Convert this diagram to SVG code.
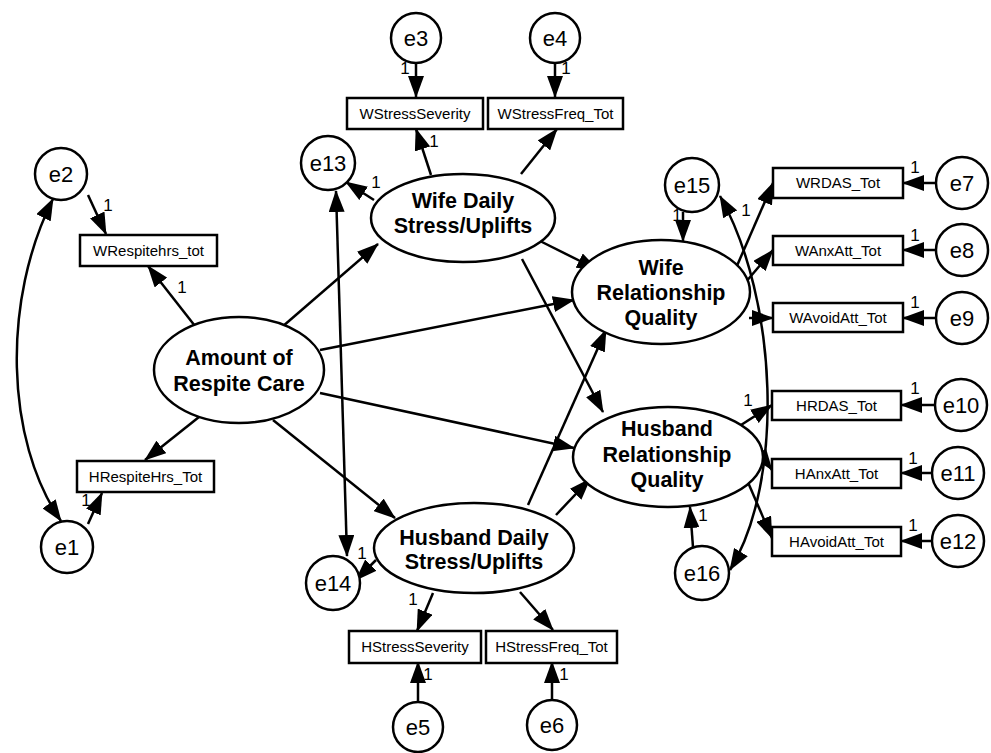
<svg xmlns="http://www.w3.org/2000/svg" width="991" height="753" viewBox="0 0 991 753">
<style>
.n{fill:#fff;stroke:#000;stroke-width:2.5}
.c{fill:none;stroke:#000;stroke-width:2.5}
.lt{font-family:"Liberation Sans",Arial,sans-serif;font-weight:bold;font-size:21.5px;text-anchor:middle}
.et{font-family:"Liberation Sans",Arial,sans-serif;font-size:22px;text-anchor:middle}
.bt{font-family:"Liberation Sans",Arial,sans-serif;font-size:15px;text-anchor:middle}
.one{font-family:"Liberation Sans",Arial,sans-serif;font-size:17px;text-anchor:middle;fill:#000}
</style>
<defs>
<marker id="a" markerWidth="22" markerHeight="16" refX="21" refY="8" orient="auto-start-reverse" markerUnits="userSpaceOnUse"><path d="M0,0 L22,8 L0,16 z" fill="#000"/></marker>
</defs>
<rect width="991" height="753" fill="#fff"/>
<g id="connectors">
<path class="c" d="M88,195 L106,234" marker-end="url(#a)"/>
<path class="c" d="M195,326 L148,266" marker-end="url(#a)"/>
<path class="c" d="M199,417 L145,460" marker-end="url(#a)"/>
<path class="c" d="M88,524 L102,493" marker-end="url(#a)"/>
<path class="c" d="M53,199 C2,300 5,440 61,521" marker-start="url(#a)" marker-end="url(#a)"/>
<path class="c" d="M416,63 L416,97" marker-end="url(#a)"/>
<path class="c" d="M555,63 L555,97" marker-end="url(#a)"/>
<path class="c" d="M431,175 L416,129" marker-end="url(#a)"/>
<path class="c" d="M521,174 L557,129" marker-end="url(#a)"/>
<path class="c" d="M374,200 L346,182" marker-end="url(#a)"/>
<path class="c" d="M336,191 L347,556" marker-start="url(#a)" marker-end="url(#a)"/>
<path class="c" d="M376,560 L356,580" marker-end="url(#a)"/>
<path class="c" d="M720,196 C778,300 785,480 730,570" marker-start="url(#a)" marker-end="url(#a)"/>
<path class="c" d="M282,327 L378,244" marker-end="url(#a)"/>
<path class="c" d="M320,350 L574,300" marker-end="url(#a)"/>
<path class="c" d="M320,393 L574,448" marker-end="url(#a)"/>
<path class="c" d="M273,420 L395,518" marker-end="url(#a)"/>
<path class="c" d="M538,240 L598,270" marker-end="url(#a)"/>
<path class="c" d="M522,259 L603,412" marker-end="url(#a)"/>
<path class="c" d="M528,505 L606,330" marker-end="url(#a)"/>
<path class="c" d="M556,515 L590,479" marker-end="url(#a)"/>
<path class="c" d="M736,268 L773,183" marker-end="url(#a)"/>
<path class="c" d="M745,283 L773,250" marker-end="url(#a)"/>
<path class="c" d="M749,318 L773,318" marker-end="url(#a)"/>
<path class="c" d="M935,183 L903,183" marker-end="url(#a)"/>
<path class="c" d="M935,250 L903,250" marker-end="url(#a)"/>
<path class="c" d="M935,318 L903,318" marker-end="url(#a)"/>
<path class="c" d="M935,405 L901,405" marker-end="url(#a)"/>
<path class="c" d="M931,473 L901,473" marker-end="url(#a)"/>
<path class="c" d="M931,541 L901,541" marker-end="url(#a)"/>
<path class="c" d="M741,425 L772,405" marker-end="url(#a)"/>
<path class="c" d="M758,451 L772,470" marker-end="url(#a)"/>
<path class="c" d="M747,480 L772,538" marker-end="url(#a)"/>
<path class="c" d="M693,547 L690,507" marker-end="url(#a)"/>
<path class="c" d="M683,212 L683,241" marker-end="url(#a)"/>
<path class="c" d="M433,593 L417,631" marker-end="url(#a)"/>
<path class="c" d="M520,592 L553,630" marker-end="url(#a)"/>
<path class="c" d="M418,701 L418,662" marker-end="url(#a)"/>
<path class="c" d="M552,699 L552,662" marker-end="url(#a)"/>
<text class="one" x="108" y="211">1</text>
<text class="one" x="182" y="293">1</text>
<text class="one" x="86" y="506">1</text>
<text class="one" x="405" y="74">1</text>
<text class="one" x="566" y="74">1</text>
<text class="one" x="434" y="147">1</text>
<text class="one" x="376" y="188">1</text>
<text class="one" x="746" y="216">1</text>
<text class="one" x="915" y="173">1</text>
<text class="one" x="915" y="241">1</text>
<text class="one" x="915" y="308">1</text>
<text class="one" x="915" y="394">1</text>
<text class="one" x="913" y="464">1</text>
<text class="one" x="913" y="531">1</text>
<text class="one" x="748" y="406">1</text>
<text class="one" x="703" y="521">1</text>
<text class="one" x="677" y="221">1</text>
<text class="one" x="362" y="559">1</text>
<text class="one" x="413" y="605">1</text>
<text class="one" x="428" y="680">1</text>
<text class="one" x="564" y="680">1</text>
</g>
<g id="e1"><circle class="n" cx="67" cy="547" r="26"/><text class="et" x="67" y="555">e1</text></g>
<g id="e2"><circle class="n" cx="61" cy="174" r="26"/><text class="et" x="61" y="182">e2</text></g>
<g id="e3"><circle class="n" cx="416" cy="38" r="25"/><text class="et" x="416" y="46">e3</text></g>
<g id="e4"><circle class="n" cx="555" cy="38" r="25"/><text class="et" x="555" y="46">e4</text></g>
<g id="e5"><circle class="n" cx="418" cy="727" r="25"/><text class="et" x="418" y="735">e5</text></g>
<g id="e6"><circle class="n" cx="552" cy="725" r="25"/><text class="et" x="552" y="733">e6</text></g>
<g id="e7"><circle class="n" cx="962" cy="183" r="26"/><text class="et" x="962" y="191">e7</text></g>
<g id="e8"><circle class="n" cx="962" cy="250" r="26"/><text class="et" x="962" y="258">e8</text></g>
<g id="e9"><circle class="n" cx="962" cy="318" r="26"/><text class="et" x="962" y="326">e9</text></g>
<g id="e10"><circle class="n" cx="961" cy="405" r="26"/><text class="et" x="961" y="413">e10</text></g>
<g id="e11"><circle class="n" cx="958" cy="473" r="26"/><text class="et" x="958" y="481">e11</text></g>
<g id="e12"><circle class="n" cx="958" cy="541" r="26"/><text class="et" x="958" y="549">e12</text></g>
<g id="e13"><circle class="n" cx="328" cy="163" r="27"/><text class="et" x="328" y="171">e13</text></g>
<g id="e14"><circle class="n" cx="333" cy="583" r="27"/><text class="et" x="333" y="591">e14</text></g>
<g id="e15"><circle class="n" cx="692" cy="185" r="27"/><text class="et" x="692" y="193">e15</text></g>
<g id="e16"><circle class="n" cx="702" cy="573" r="27"/><text class="et" x="702" y="581">e16</text></g>
<g id="WRespitehrs_tot"><rect class="n" x="80" y="235" width="137" height="31"/><text class="bt" x="148.5" y="256">WRespitehrs_tot</text></g>
<g id="HRespiteHrs_Tot"><rect class="n" x="77" y="461" width="137" height="31"/><text class="bt" x="145.5" y="482">HRespiteHrs_Tot</text></g>
<g id="WStressSeverity"><rect class="n" x="347" y="98" width="136" height="31"/><text class="bt" x="415" y="119">WStressSeverity</text></g>
<g id="WStressFreq_Tot"><rect class="n" x="488" y="98" width="135" height="31"/><text class="bt" x="555.5" y="119">WStressFreq_Tot</text></g>
<g id="WRDAS_Tot"><rect class="n" x="773" y="168" width="130" height="30"/><text class="bt" x="838" y="188">WRDAS_Tot</text></g>
<g id="WAnxAtt_Tot"><rect class="n" x="773" y="236" width="130" height="29"/><text class="bt" x="838" y="255.5">WAnxAtt_Tot</text></g>
<g id="WAvoidAtt_Tot"><rect class="n" x="773" y="303" width="130" height="29"/><text class="bt" x="838" y="322.5">WAvoidAtt_Tot</text></g>
<g id="HRDAS_Tot"><rect class="n" x="772" y="391" width="129" height="29"/><text class="bt" x="836.5" y="410.5">HRDAS_Tot</text></g>
<g id="HAnxAtt_Tot"><rect class="n" x="772" y="459" width="129" height="29"/><text class="bt" x="836.5" y="478.5">HAnxAtt_Tot</text></g>
<g id="HAvoidAtt_Tot"><rect class="n" x="772" y="527" width="129" height="29"/><text class="bt" x="836.5" y="546.5">HAvoidAtt_Tot</text></g>
<g id="HStressSeverity"><rect class="n" x="349" y="631" width="132" height="32"/><text class="bt" x="415" y="652">HStressSeverity</text></g>
<g id="HStressFreq_Tot"><rect class="n" x="486" y="631" width="131" height="32"/><text class="bt" x="551.5" y="652">HStressFreq_Tot</text></g>
<g id="AmountRespite"><ellipse class="n" cx="239" cy="370" rx="85" ry="53"/><text class="lt" x="239" y="365">Amount of</text><text class="lt" x="239" y="391">Respite Care</text></g>
<g id="WifeDaily"><ellipse class="n" cx="463" cy="218" rx="92" ry="44"/><text class="lt" x="463" y="208">Wife Daily</text><text class="lt" x="463" y="233">Stress/Uplifts</text></g>
<g id="HusbandDaily"><ellipse class="n" cx="474" cy="548" rx="100" ry="45"/><text class="lt" x="474" y="545">Husband Daily</text><text class="lt" x="474" y="569">Stress/Uplifts</text></g>
<g id="WifeRQ"><ellipse class="n" cx="661" cy="292" rx="89" ry="52"/><text class="lt" x="661" y="275">Wife</text><text class="lt" x="661" y="300">Relationship</text><text class="lt" x="661" y="325">Quality</text></g>
<g id="HusbandRQ"><ellipse class="n" cx="668" cy="457" rx="95" ry="50"/><text class="lt" x="667" y="436">Husband</text><text class="lt" x="667" y="462">Relationship</text><text class="lt" x="667" y="487">Quality</text></g>
</svg>
